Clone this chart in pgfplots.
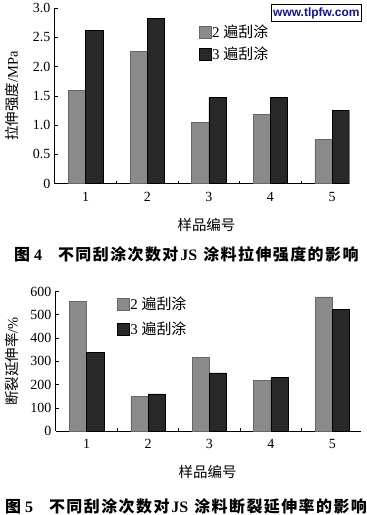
\documentclass[border=0pt]{standalone}
\usepackage{pgfplots}
\pgfplotsset{compat=1.18}
\usepackage{fontspec}
\setmainfont{Liberation Serif}
\newfontfamily\cjk{Noto Sans CJK SC}
\newfontfamily\cjkcap[LetterSpace=9]{Noto Sans CJK SC}
\newfontfamily\wsans{Liberation Sans}
\definecolor{gbar}{HTML}{8A8A8A}
\definecolor{kbar}{HTML}{282828}
\definecolor{wm}{RGB}{20,20,140}
\pgfplotsset{
  common/.style={
    scale only axis,
    axis lines=left,
    axis line style={-, line width=0.8pt},
    tick align=inside,
    major tick length=3pt,
    tick style={line width=0.6pt, black},
    xtick={1.5,2.5,3.5,4.5},
    xticklabels={},
    extra x ticks={1,2,3,4,5},
    extra x tick style={major tick length=0pt},
    /pgf/number format/assume math mode=true,
    tick label style={font=\fontsize{14}{16}\selectfont},
    label style={font=\fontsize{14.5}{16}\selectfont},
    xticklabel style={yshift=-5pt},
    yticklabel style={xshift=-1pt},
    legend style={draw=none, fill=none, inner sep=0pt, anchor=north west,
      font=\fontsize{15}{16}\selectfont, nodes={inner sep=1pt}},
    legend cell align=left,
  },
  gray bars/.style={ybar, bar width=0.28, bar shift=-0.14, fill=gbar, draw=gbar!75!black, line width=0.5pt},
  black bars/.style={ybar, bar width=0.28, bar shift=0.14, fill=kbar, draw=black, line width=0.5pt},
}
\begin{document}
\begin{tikzpicture}[x=1pt,y=1pt]

% ---------- chart 1 ----------
\begin{axis}[common,
  at={(55pt,332pt)}, anchor=south west,
  width=295pt, height=176pt,
  xmin=0.5, xmax=5.28, ymin=0, ymax=3,
  ytick={0,0.5,1,1.5,2,2.5,3},
  yticklabels={0,0.5,1.0,1.5,2.0,2.5,3.0},
  ylabel={{\cjk 拉伸强度}/MPa},
  ylabel style={at={(axis description cs:-0.145,0.5)}, anchor=center},
  xlabel={\cjk 样品编号},
  xlabel style={at={(axis description cs:0.515,-0.233)}, anchor=center},
  legend style={at={(0.488,0.91)}, row sep=6pt},
  legend image code/.code={\fill[#1] (0pt,-6pt) rectangle (12pt,6pt);},
]
\addplot[gray bars] coordinates {(1,1.59) (2,2.26) (3,1.05) (4,1.18) (5,0.76)};
\addlegendentry{2 {\cjk 遍刮涂}}
\addplot[black bars] coordinates {(1,2.62) (2,2.82) (3,1.47) (4,1.47) (5,1.25)};
\addlegendentry{3 {\cjk 遍刮涂}}
\end{axis}

% ---------- chart 2 ----------
\begin{axis}[common,
  at={(56pt,84pt)}, anchor=south west,
  width=306pt, height=140pt,
  xmin=0.5, xmax=5.47, ymin=0, ymax=600,
  ytick={0,100,200,300,400,500,600},
  ylabel={{\cjk 断裂延伸率}/\%},
  ylabel style={at={(axis description cs:-0.143,0.5)}, anchor=center},
  xlabel={\cjk 样品编号},
  xlabel style={at={(axis description cs:0.497,-0.293)}, anchor=center},
  legend style={at={(0.199,0.97)}, row sep=9pt},
  legend image code/.code={\fill[#1] (0pt,-6pt) rectangle (12pt,6pt);},
]
\addplot[gray bars] coordinates {(1,558) (2,151) (3,317) (4,217) (5,577)};
\addlegendentry{2 {\cjk 遍刮涂}}
\addplot[black bars] coordinates {(1,340) (2,160) (3,250) (4,231) (5,523)};
\addlegendentry{3 {\cjk 遍刮涂}}
\end{axis}

% captions
\node[anchor=west, inner sep=0pt, font=\fontsize{16}{18}\selectfont\bfseries] at (14pt,261.5pt)
  {{\cjkcap\bfseries 图}\hspace{4pt}4\hspace{16pt}{\cjkcap\bfseries 不同刮涂次数对}\hspace{2pt}JS\hspace{6pt}{\cjkcap\bfseries 涂料拉伸强度的影响}};
\node[anchor=west, inner sep=0pt, font=\fontsize{16}{18}\selectfont\bfseries] at (5pt,8.5pt)
  {{\cjkcap\bfseries 图}\hspace{4pt}5\hspace{16pt}{\cjkcap\bfseries 不同刮涂次数对}\hspace{2pt}JS\hspace{6pt}{\cjkcap\bfseries 涂料断裂延伸率的影响}};

% watermark
\node[draw=black, line width=1.2pt, fill=white, minimum width=90pt, minimum height=17pt, inner sep=0pt,
  text=wm, font=\wsans\bfseries\fontsize{12}{14}\selectfont] at (317pt,503pt) {www.tlpfw.com};
\path (0pt,0pt) rectangle (365pt,515pt);
\end{tikzpicture}
\end{document}
